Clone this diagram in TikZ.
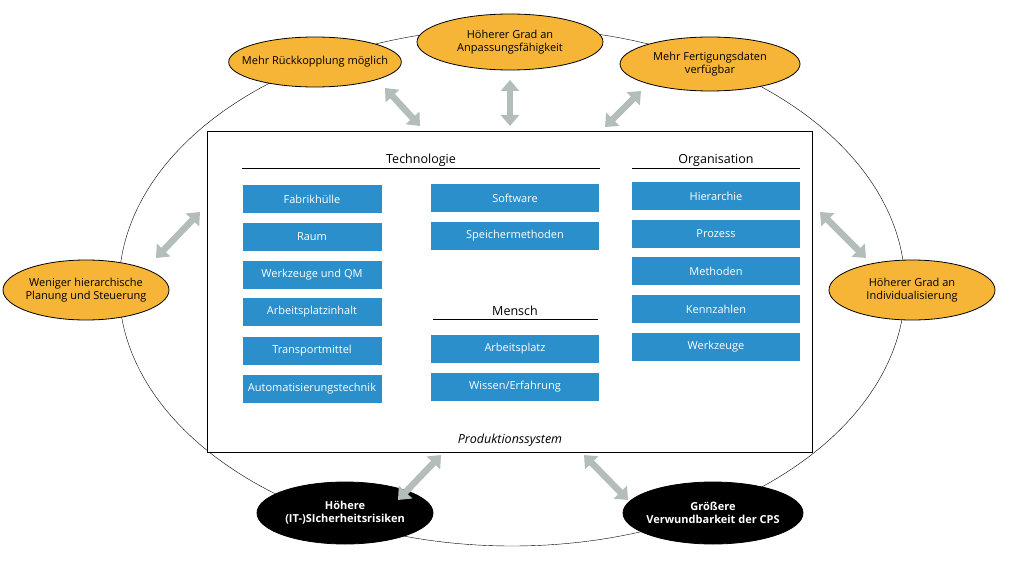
\documentclass[tikz,border=0pt]{standalone}
\usepackage{fontspec}
\setmainfont{Open Sans}
\usetikzlibrary{arrows.meta,positioning,shapes.geometric}
\definecolor{boxblue}{HTML}{2A8FCB}
\definecolor{effectorange}{HTML}{F6B537}
\definecolor{arrowgray}{HTML}{B3BDBA}
\begin{document}
\begin{tikzpicture}[x=1pt,y=-1pt,
        font=\fontsize{11}{13}\selectfont,
        bluenode/.style={rectangle, fill=boxblue, text=white, minimum height=28pt, inner sep=0pt},
        leftnode/.style={bluenode, minimum width=139pt},
        rightnode/.style={bluenode, minimum width=168pt},
        headnode/.style={font=\fontsize{12.5}{14}\selectfont},
        orangenode/.style={ellipse, draw=black, thick, fill=effectorange, align=center, inner xsep=-12pt, inner ysep=0pt},
        blacknode/.style={ellipse, draw=black, thick, fill=black, text=white, font=\fontsize{11}{13}\selectfont\bfseries, align=center, inner xsep=-12pt, inner ysep=0pt},
        grayarrow/.style={{Triangle[length=11pt,width=18pt]}-{Triangle[length=11pt,width=18pt]}, line width=6.5pt, arrowgray},
      ]
      \useasboundingbox (0,0) rectangle (1024,580);
      % Frame
      \draw (512,287) ellipse [x radius=393, y radius=259];
      \draw[fill=white] (207,131) rectangle (812,452);

      % Headings
      \node[headnode] (tech) at (421,160) {Technologie};
      \draw (242,168) -- (600,168);
      \node[headnode] (org) at (716,160) {Organisation};
      \draw (632,168) -- (800,168);
      \node[headnode] (mensch) at (515,311) {Mensch};
      \draw (433,319) -- (598,319);
      \node[headnode] (ps) at (510,440) {\itshape Produktionssystem};

      % Blue boxes
      \node[leftnode] (fabrik) at (312,199) {Fabrikhülle};
      \node[leftnode] (raum) at (312,237) {Raum};
      \node[leftnode] (werkzeugeqm) at (312,275) {Werkzeuge und QM};
      \node[leftnode] (inhalt) at (312,312) {Arbeitsplatzinhalt};
      \node[leftnode] (transport) at (312,351) {Transportmittel};
      \node[leftnode] (auto) at (312,389) {Automatisierungstechnik};
      \node[rightnode] (software) at (515,198) {Software};
      \node[rightnode] (speicher) at (515,236) {Speichermethoden};
      \node[rightnode] (platz) at (515,349) {Arbeitsplatz};
      \node[rightnode] (wissen) at (515,387) {Wissen/Erfahrung};
      \node[rightnode] (hierarchie) at (716,196) {Hierarchie};
      \node[rightnode] (prozess) at (716,234) {Prozess};
      \node[rightnode] (methoden) at (716,271) {Methoden};
      \node[rightnode] (kennzahlen) at (716,309) {Kennzahlen};
      \node[rightnode] (werkzeuge) at (716,347) {Werkzeuge};

      % Effects
      \node[orangenode, minimum width=172pt, minimum height=50pt] (rueck) at (315,62) {Mehr Rückkopplung möglich};
      \node[orangenode, minimum width=186pt, minimum height=56pt] (anpass) at (510,42) {Höherer Grad an\\Anpassungsfähigkeit};
      \node[orangenode, minimum width=180pt, minimum height=54pt] (daten) at (710,64) {Mehr Fertigungsdaten\\verfügbar};
      \node[orangenode, minimum width=166pt, minimum height=60pt] (planung) at (86,290) {Weniger hierarchische\\Planung und Steuerung};
      \node[orangenode, minimum width=166pt, minimum height=60pt] (indiv) at (912,290) {Höherer Grad an\\Individualisierung};
      \node[blacknode, minimum width=176pt, minimum height=62pt] (risiko) at (345,513) {Höhere\\(IT-)SIcherheitsrisiken};
      \node[blacknode, minimum width=180pt, minimum height=62pt] (verwund) at (713,513) {Größere\\Verwundbarkeit der CPS};

      % Arrows
      \coordinate (a1) at (420,126);
      \coordinate (a2) at (510,126);
      \coordinate (a3) at (605,127);
      \coordinate (a4) at (200,212);
      \coordinate (a5) at (820,212);
      \coordinate (a6) at (441,455);
      \coordinate (a7) at (584,455);
      \draw[grayarrow] (385,88) -- (a1);
      \draw[grayarrow] (510,80) -- (a2);
      \draw[grayarrow] (641,91) -- (a3);
      \draw[grayarrow] (156,258) -- (a4);
      \draw[grayarrow] (866,258) -- (a5);
      \draw[grayarrow] (398,500) -- (a6);
      \draw[grayarrow] (628,500) -- (a7);
    \end{tikzpicture}
\end{document}
